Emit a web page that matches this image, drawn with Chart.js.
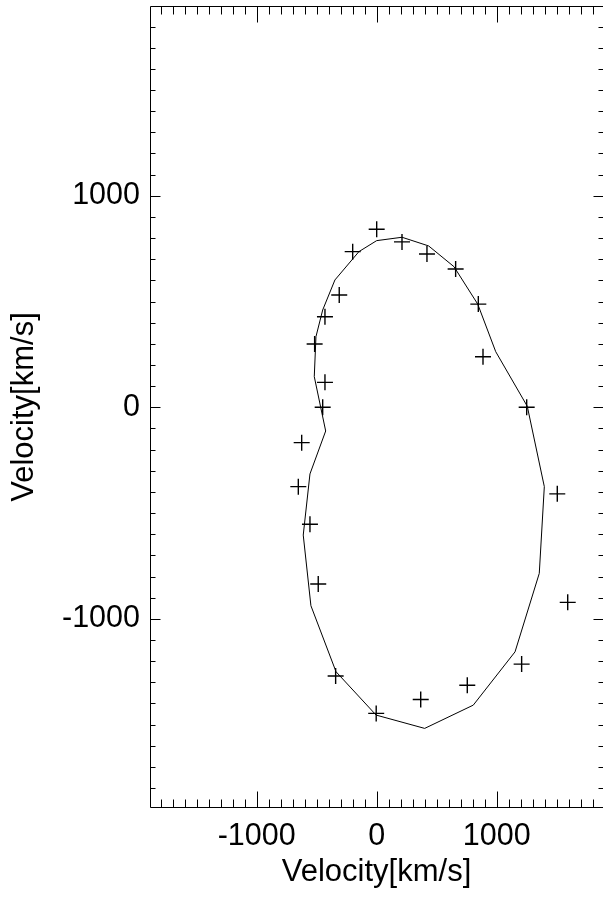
<!DOCTYPE html>
<html>
<head>
<meta charset="utf-8">
<script src="https://cdn.jsdelivr.net/npm/chart.js@4/dist/chart.umd.min.js"></script>
<style>
  html, body { margin: 0; padding: 0; background: #fff; overflow: hidden; }
  #wrap { width: 603px; height: 898px; overflow: hidden; }
  #c { display: block; }
</style>
</head>
<body>
<div id="wrap"><canvas id="c" width="603" height="898"></canvas></div>
<script>
// Measured velocities (plus markers)
const markerX = [0, -200, 211, 419, 658, 847, 886, 1250, 1505, 1592, 1208, 755, 367, -4, -342, -487, -556, -653, -625, -450, -431, -517, -431, -312];
const markerY = [842, 736, 782, 725, 654, 488, 239, 0, -409, -922, -1214, -1314, -1381, -1447, -1270, -835, -553, -375, -167, 0, 118, 299, 428, 531];

// Model contour (closed polygon)
const lineX = [0, 211, 433, 644, 842, 992, 1255, 1397, 1355, 1153, 805, 400, -5, -339, -548, -612, -556, -425, -520, -506, -450, -348, -148];
const lineY = [788, 804, 763, 665, 488, 263, 5, -375, -785, -1156, -1408, -1518, -1455, -1250, -938, -604, -315, -112, 145, 334, 460, 602, 736];

// Axis tick labels and ranges
const xTickValues = [-1000, 0, 1000];
const yTickValues = [-1000, 0, 1000];
const xRange = [-1889, 1886];
const yRange = [-1891, 1894];
const minorStep = 100;
const majorStep = 1000;
const axisTitle = 'Velocity[km/s]';

const FONT = "'Liberation Sans', Arial, Helvetica, sans-serif";

const markerPoints = markerX.map((x, i) => ({ x: x, y: markerY[i] }));
const linePoints = lineX.map((x, i) => ({ x: x, y: lineY[i] }));
linePoints.push({ x: lineX[0], y: lineY[0] });

// Frame (the right edge sits at the canvas border) with inward major/minor ticks
const frameTicks = {
  id: 'frameTicks',
  afterDraw(chart) {
    const { ctx, chartArea: a, scales } = chart;
    const xs = scales.x, ys = scales.y;
    const L = Math.floor(a.left) + 0.5;
    const R = chart.width + 0.5;
    const T = Math.floor(a.top) + 0.5;
    const B = Math.floor(a.bottom) + 0.5;
    ctx.save();
    ctx.strokeStyle = '#000';
    ctx.lineWidth = 1;
    ctx.beginPath();
    ctx.moveTo(R, T); ctx.lineTo(L, T); ctx.lineTo(L, B); ctx.lineTo(R, B);
    ctx.stroke();

    const xMajorLen = 16, xMinorLen = 8;
    const yMajorLen = 10, yMinorLen = 5;
    ctx.beginPath();
    for (let v = Math.ceil(xs.min / minorStep) * minorStep; v <= xs.max; v += minorStep) {
      const px = Math.round(xs.getPixelForValue(v)) + 0.5;
      const len = (v % majorStep === 0) ? xMajorLen : xMinorLen;
      ctx.moveTo(px, B); ctx.lineTo(px, B - len);
      ctx.moveTo(px, T); ctx.lineTo(px, T + len);
    }
    for (let v = Math.ceil(ys.min / minorStep) * minorStep; v <= ys.max; v += minorStep) {
      const py = Math.round(ys.getPixelForValue(v)) + 0.5;
      const len = (v % majorStep === 0) ? yMajorLen : yMinorLen;
      ctx.moveTo(L, py); ctx.lineTo(L + len, py);
      ctx.moveTo(R, py); ctx.lineTo(R - len, py);
    }
    ctx.stroke();
    ctx.restore();
  }
};

new Chart(document.getElementById('c'), {
  type: 'scatter',
  data: {
    datasets: [
      {
        data: linePoints,
        showLine: true,
        borderColor: '#000',
        borderWidth: 1,
        pointRadius: 0,
        tension: 0,
        fill: false
      },
      {
        data: markerPoints,
        showLine: false,
        pointStyle: 'cross',
        pointRadius: 8,
        pointBorderWidth: 1.4,
        borderColor: '#000',
        backgroundColor: '#000'
      }
    ]
  },
  options: {
    responsive: false,
    devicePixelRatio: 1,
    animation: false,
    layout: { autoPadding: false, padding: { top: 6.7, right: 0, bottom: 0, left: 0 } },
    plugins: { legend: { display: false }, tooltip: { enabled: false } },
    scales: {
      x: {
        type: 'linear',
        position: 'bottom',
        min: xRange[0],
        max: xRange[1],
        afterBuildTicks: (s) => { s.ticks = xTickValues.map(v => ({ value: v })); },
        afterFit: (s) => { s.height = 90.7; s.paddingLeft = 0; s.paddingRight = 0; },
        grid: { display: false, drawTicks: false },
        border: { display: false },
        ticks: {
          padding: 11,
          maxRotation: 0,
          autoSkip: false,
          color: '#000',
          font: { family: FONT, size: 30.5 },
          callback: (v) => String(v)
        },
        title: {
          display: true,
          text: axisTitle,
          color: '#000',
          font: { family: FONT, size: 31 },
          padding: { top: 0, bottom: 7 }
        }
      },
      y: {
        type: 'linear',
        position: 'left',
        min: yRange[0],
        max: yRange[1],
        afterBuildTicks: (s) => { s.ticks = yTickValues.map(v => ({ value: v })); },
        afterFit: (s) => { s.width = 150; s.paddingTop = 0; s.paddingBottom = 0; },
        grid: { display: false, drawTicks: false },
        border: { display: false },
        ticks: {
          padding: 10,
          autoSkip: false,
          color: '#000',
          font: { family: FONT, size: 30.5 },
          callback: (v) => String(v)
        },
        title: {
          display: true,
          text: axisTitle,
          color: '#000',
          font: { family: FONT, size: 31 },
          padding: { top: 6, bottom: 0 }
        }
      }
    }
  },
  plugins: [frameTicks]
});
</script>
</body>
</html>
